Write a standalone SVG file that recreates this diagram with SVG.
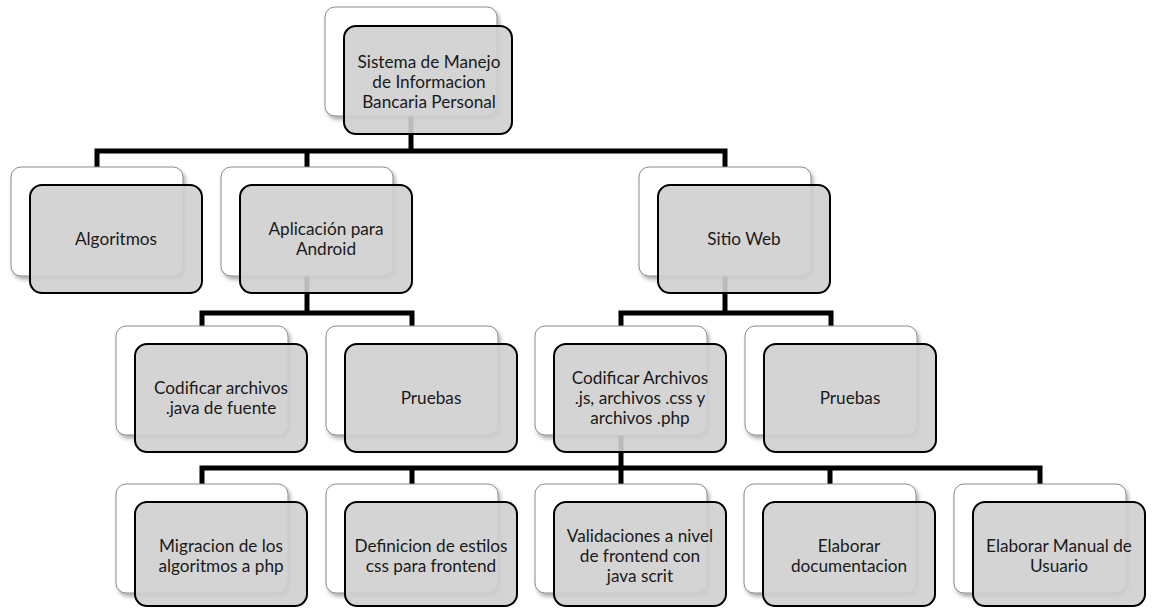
<svg xmlns="http://www.w3.org/2000/svg" width="1157" height="609" viewBox="0 0 1157 609">
  <defs>
    <filter id="shadow" x="-10%" y="-10%" width="125%" height="130%">
      <feGaussianBlur in="SourceAlpha" stdDeviation="2"/>
      <feOffset dx="2" dy="3" result="blur"/>
      <feComponentTransfer><feFuncA type="linear" slope="0.35"/></feComponentTransfer>
      <feMerge><feMergeNode/><feMergeNode in="SourceGraphic"/></feMerge>
    </filter>
  </defs>
  <style>
    .back { fill: #ffffff; stroke: #8c8c8c; stroke-width: 1; filter: url(#shadow); }
    .front { fill: #cfcfcf; fill-opacity: 0.9; stroke: #000000; stroke-width: 2; }
    .link { fill: none; stroke: #000000; stroke-width: 5; stroke-linejoin: miter; }
    text { font-family: Lato, "Open Sans", "Liberation Sans", sans-serif; font-size: 17.2px; fill: #1a1a1a; text-anchor: middle; }
  </style>
  <rect width="1157" height="609" fill="#ffffff"/>

  <!-- connectors, drawn under the node cards -->
  <g id="connectors">
    <path class="link" d="M411 100 V151"/>
    <path class="link" d="M97 172 V151 H725 V172"/>
    <path class="link" d="M307 151 V172"/>
    <path class="link" d="M307 260 V313"/>
    <path class="link" d="M202 332 V313 H412 V332"/>
    <path class="link" d="M725 260 V313"/>
    <path class="link" d="M621 332 V313 H831 V332"/>
    <path class="link" d="M621 420 V468"/>
    <path class="link" d="M202 490 V468 H1040 V490"/>
    <path class="link" d="M412 468 V490"/>
    <path class="link" d="M621 468 V490"/>
    <path class="link" d="M830 468 V490"/>
  </g>

  <g id="n-root">
    <rect class="back" x="325" y="7" width="172" height="109" rx="10"/>
    <rect class="front" x="344" y="26" width="168" height="108" rx="12"/>
    <text x="429" y="68">Sistema de Manejo</text>
    <text x="429" y="88">de Informacion</text>
    <text x="429" y="108">Bancaria Personal</text>
  </g>

  <g id="n-algoritmos">
    <rect class="back" x="11" y="167" width="172" height="109" rx="10"/>
    <rect class="front" x="30" y="185" width="172" height="108" rx="12"/>
    <text x="116" y="245">Algoritmos</text>
  </g>

  <g id="n-android">
    <rect class="back" x="221" y="167" width="172" height="109" rx="10"/>
    <rect class="front" x="240" y="185" width="172" height="108" rx="12"/>
    <text x="326" y="235">Aplicación para</text>
    <text x="326" y="255">Android</text>
  </g>

  <g id="n-web">
    <rect class="back" x="639" y="167" width="172" height="109" rx="10"/>
    <rect class="front" x="658" y="185" width="172" height="108" rx="12"/>
    <text x="744" y="245">Sitio Web</text>
  </g>

  <g id="n-java">
    <rect class="back" x="116" y="326" width="172" height="109" rx="10"/>
    <rect class="front" x="135" y="344" width="172" height="108" rx="12"/>
    <text x="221" y="394">Codificar archivos</text>
    <text x="221" y="414">.java de fuente</text>
  </g>

  <g id="n-pruebas-android">
    <rect class="back" x="326" y="326" width="172" height="109" rx="10"/>
    <rect class="front" x="345" y="344" width="172" height="108" rx="12"/>
    <text x="431" y="404">Pruebas</text>
  </g>

  <g id="n-archivos-web">
    <rect class="back" x="535" y="326" width="172" height="109" rx="10"/>
    <rect class="front" x="554" y="344" width="172" height="108" rx="12"/>
    <text x="640" y="384">Codificar Archivos</text>
    <text x="640" y="404">.js, archivos .css y</text>
    <text x="640" y="424">archivos .php</text>
  </g>

  <g id="n-pruebas-web">
    <rect class="back" x="745" y="326" width="172" height="109" rx="10"/>
    <rect class="front" x="764" y="344" width="172" height="108" rx="12"/>
    <text x="850" y="404">Pruebas</text>
  </g>

  <g id="n-migracion">
    <rect class="back" x="116" y="484" width="172" height="109" rx="10"/>
    <rect class="front" x="135" y="502" width="172" height="104" rx="12"/>
    <text x="221" y="552">Migracion de los</text>
    <text x="221" y="572">algoritmos a php</text>
  </g>

  <g id="n-estilos">
    <rect class="back" x="326" y="484" width="172" height="109" rx="10"/>
    <rect class="front" x="345" y="502" width="172" height="104" rx="12"/>
    <text x="431" y="552">Definicion de estilos</text>
    <text x="431" y="572">css para frontend</text>
  </g>

  <g id="n-validaciones">
    <rect class="back" x="535" y="484" width="172" height="109" rx="10"/>
    <rect class="front" x="554" y="502" width="172" height="104" rx="12"/>
    <text x="640" y="542">Validaciones a nivel</text>
    <text x="640" y="562">de frontend con</text>
    <text x="640" y="582">java scrit</text>
  </g>

  <g id="n-documentacion">
    <rect class="back" x="744" y="484" width="172" height="109" rx="10"/>
    <rect class="front" x="763" y="502" width="172" height="104" rx="12"/>
    <text x="849" y="552">Elaborar</text>
    <text x="849" y="572">documentacion</text>
  </g>

  <g id="n-manual">
    <rect class="back" x="954" y="484" width="172" height="109" rx="10"/>
    <rect class="front" x="973" y="502" width="172" height="104" rx="12"/>
    <text x="1059" y="552">Elaborar Manual de</text>
    <text x="1059" y="572">Usuario</text>
  </g>
</svg>
